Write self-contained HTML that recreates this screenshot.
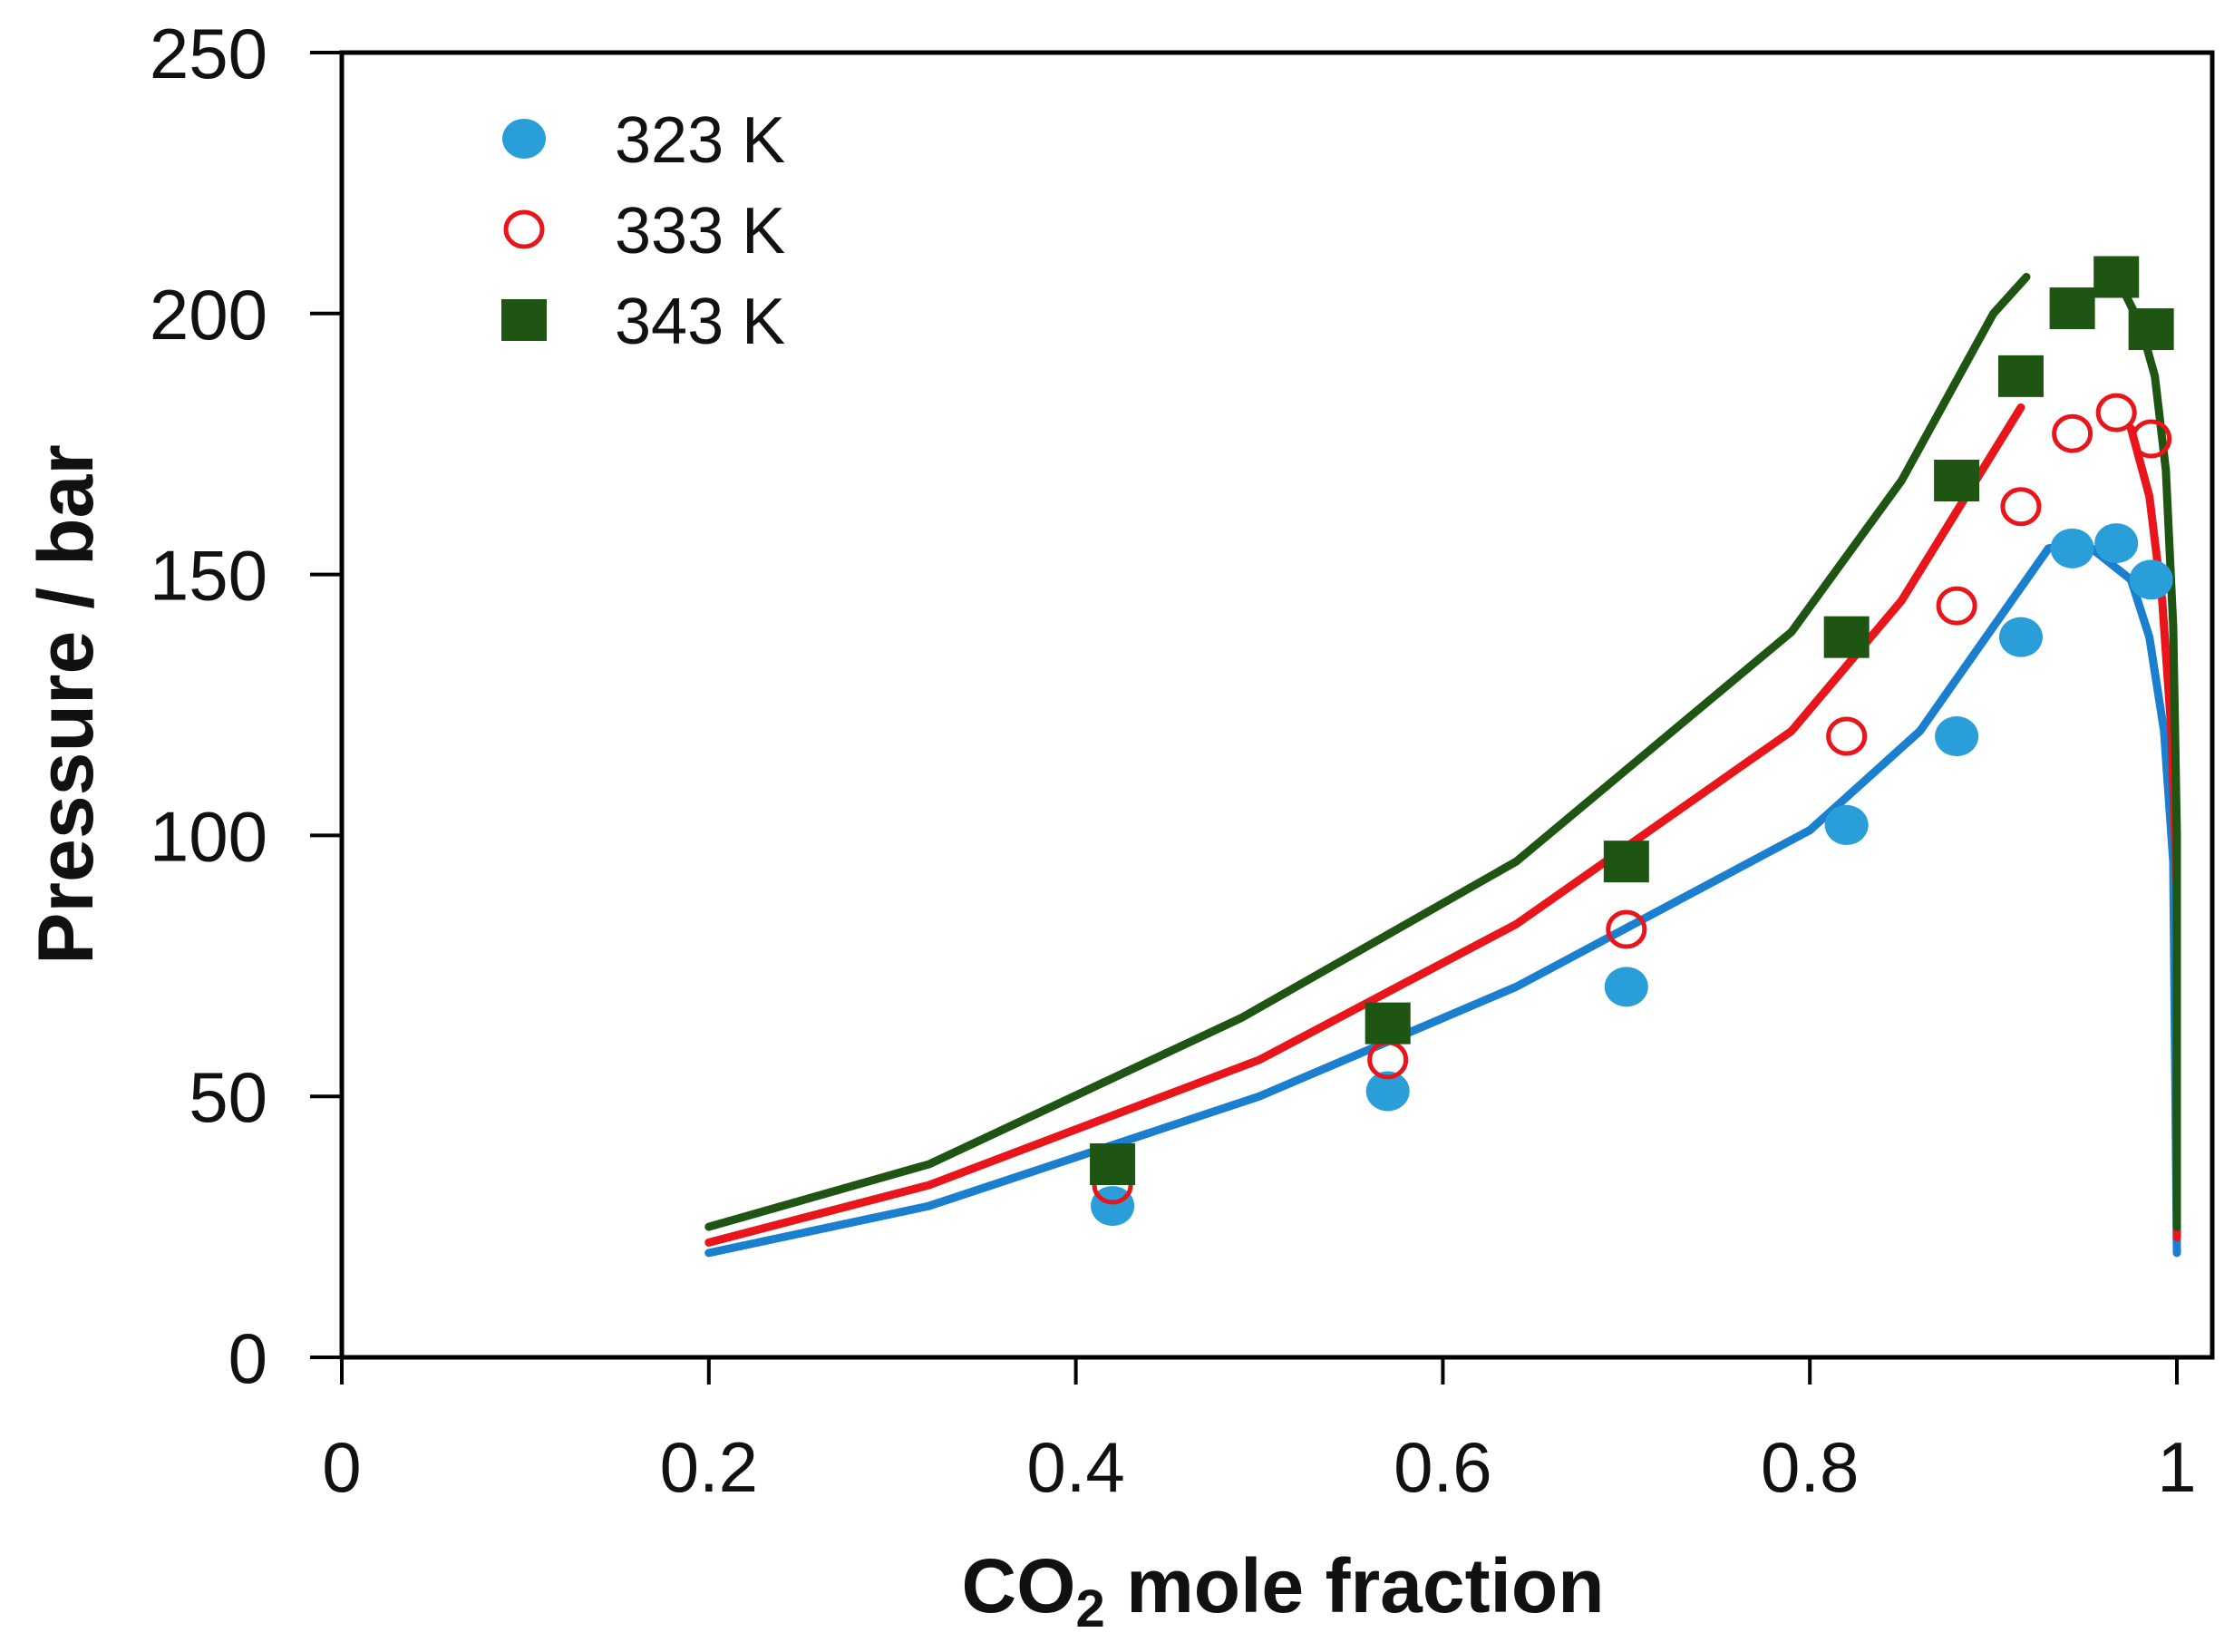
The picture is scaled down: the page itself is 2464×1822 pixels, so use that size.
<!DOCTYPE html>
<html><head><meta charset="utf-8"><style>
html,body{margin:0;padding:0;background:#fff;}
svg{display:block;}
text{font-family:"Liberation Sans",sans-serif;}
</style></head><body>
<svg id="chart" width="2464" height="1822" viewBox="0 0 2464 1822" xmlns="http://www.w3.org/2000/svg">
<g id="axes"></g><g id="lines"></g><g id="marks"></g><g id="legend"></g>
<text transform="translate(102,777) rotate(-90)" text-anchor="middle" font-size="86" font-weight="bold" fill="#111">Pressure / bar</text>
<text x="1415" y="1778" text-anchor="middle" font-size="84" font-weight="bold" fill="#111">CO<tspan font-size="58" dy="16">2</tspan><tspan dy="-16"> mole fraction</tspan></text>
</svg>
<script>
const xTicks=[0,0.2,0.4,0.6,0.8,1];
const xTickLabels=["0","0.2","0.4","0.6","0.8","1"];
const yTicks=[0,50,100,150,200,250];
const yTickLabels=["0","50","100","150","200","250"];
const seriesNames=["323 K","333 K","343 K"];
const expX=[0.42,0.57,0.70,0.82,0.88,0.915,0.943,0.967,0.986];
const exp323=[29,51,71,102,119,138,155,156,149];
const exp333=[33,57,82,119,144,163,177,181,176];
const exp343=[37,64,95,138,168,188,201,207,197];
const line323X=[0.2,0.32,0.5,0.64,0.8,0.86,0.93,0.95,0.975,0.985,0.993,0.998,1.0];
const line323Y=[20,29,50,71,101,120,155,156,149,138,120,95,20];
const line333X=[0.2,0.32,0.5,0.64,0.79,0.85,0.915];
const line333Y=[22,33,57,83,120,145,182];
const line333bX=[0.975,0.985,0.992,0.997,1.0,1.0];
const line333bY=[178,165,145,120,90,23];
const line343X=[0.2,0.32,0.49,0.64,0.79,0.85,0.9,0.918];
const line343Y=[25,37,65,95,139,168,200,207];
const line343bX=[0.97,0.98,0.988,0.994,0.998,1.0,1.0];
const line343bY=[205,198,188,170,140,100,25];

const X0=377,X1=2401,Y0=1497,Y1=58;
const sx=v=>X0+(X1-X0)*v;
const sy=v=>Y0-(Y0-Y1)*v/250;
const NS="http://www.w3.org/2000/svg";
function mk(tag,attrs,parent){const e=document.createElementNS(NS,tag);for(const k in attrs)e.setAttribute(k,attrs[k]);parent.appendChild(e);return e;}
const axes=document.getElementById('axes'),lines=document.getElementById('lines'),marks=document.getElementById('marks'),legend=document.getElementById('legend');
let fr=mk('rect',{x:X0,y:Y1,width:2440-X0,height:Y0-Y1,fill:'none',stroke:'#000','stroke-width':5},axes);


xTicks.forEach((t,i)=>{
 const l=mk('line',{x1:sx(t),x2:sx(t),y1:Y0,y2:Y0+30,stroke:'#000','stroke-width':4},axes);
 
 
 const tx=mk('text',{x:sx(t),y:1645,'text-anchor':'middle','font-size':78,fill:'#111'},axes);
 tx.textContent=xTickLabels[i];
 
 
});
yTicks.forEach((t,i)=>{
 const l=mk('line',{x1:X0-35,x2:X0,y1:sy(t),y2:sy(t),stroke:'#000','stroke-width':4},axes);
 
 
 const tx=mk('text',{x:295,y:sy(t)+28,'text-anchor':'end','font-size':78,fill:'#111'},axes);
 tx.textContent=yTickLabels[i];
 
 
});
function poly(xs,ys,color,name){
 const p=mk('polyline',{points:xs.map((x,i)=>sx(x)+','+sy(ys[i])).join(' '),fill:'none',stroke:color,'stroke-width':9,'stroke-linejoin':'round','stroke-linecap':'round'},lines);
 
 
}
poly(line323X,line323Y,'#1a7fcf','model-line-323k');
poly(line333X,line333Y,'#e8151b','model-line-333k');
poly(line333bX,line333bY,'#e8151b','model-line-333k-branch');
poly(line343X,line343Y,'#1e5512','model-line-343k');
poly(line343bX,line343bY,'#1e5512','model-line-343k-branch');
function marker(kind,cx,cy,parent,name){
 let e;
 if(kind==0)e=mk('ellipse',{cx:cx,cy:cy,rx:24,ry:22,fill:'#2a9ed8'},parent);
 else if(kind==1)e=mk('ellipse',{cx:cx,cy:cy,rx:20,ry:19,fill:'none',stroke:'#e8151b','stroke-width':5},parent);
 else e=mk('rect',{x:cx-25,y:cy-23,width:50,height:46,fill:'#1e5512'},parent);
 
 
}
[exp323,exp333,exp343].forEach((ys,k)=>{
 ys.forEach((v,i)=>marker(k,sx(expX[i]),sy(v),marks,'point-'+seriesNames[k].replace(' ','').toLowerCase()));
});
seriesNames.forEach((n,k)=>{
 const y=153+k*100;
 marker(k,578,y,legend,'legend-marker-'+k);
 const t=mk('text',{x:678,y:y+26,'font-size':72,fill:'#111'},legend);
 t.textContent=n;
 
 
});
</script>
</body></html>
